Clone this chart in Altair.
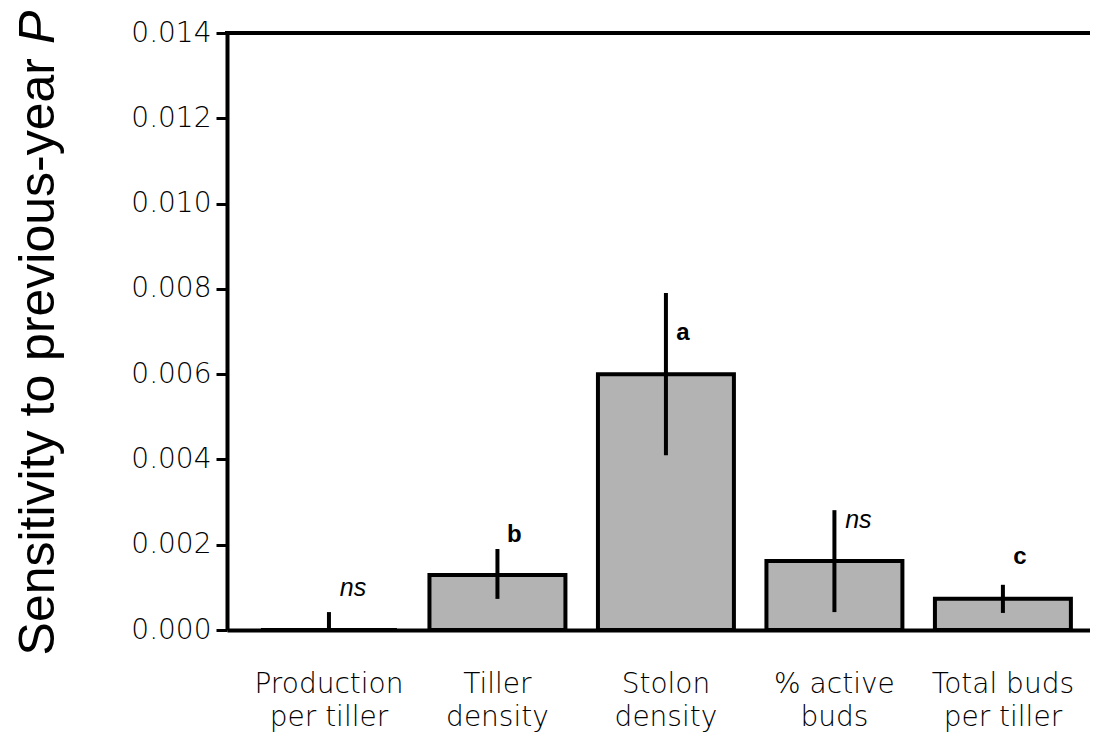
import altair as alt
import pandas as pd

categories = ["Production\nper tiller", "Tiller\ndensity", "Stolon\ndensity", "% active\nbuds", "Total buds\nper tiller"]
means = [0.0, 0.00129, 0.0060, 0.00162, 0.00073]
err_low = [0.0, 0.00073, 0.0041, 0.00042, 0.0004]
err_high = [0.00042, 0.0019, 0.0079, 0.00281, 0.00106]
letters = ["ns", "b", "a", "ns", "c"]
letter_y = [0.00098, 0.00223, 0.00697, 0.00258, 0.00171]
y_ticks = [0.0, 0.002, 0.004, 0.006, 0.008, 0.010, 0.012, 0.014]

df = pd.DataFrame({
    "cat": categories,
    "mean": means,
    "lo": err_low,
    "hi": err_high,
    "letter": letters,
    "ly": letter_y,
})

W, H = 863, 597

x_enc = alt.X(
    "cat:N",
    sort=categories,
    scale=alt.Scale(paddingInner=0.193, paddingOuter=0.1575, align=0.64),
    axis=alt.Axis(
        title=None, labelAngle=0, ticks=False, labelOverlap=False,
        labelExpr="split(datum.value, '\\n')",
        labelFont="DejaVu Sans", labelFontSize=28, labelFontWeight=300,
        labelLineHeight=33,
        labelPadding=40, labelColor="black",
        domainColor="black", domainWidth=4,
    ),
)

y_scale = alt.Scale(domain=[0, 0.014], nice=False, zero=True)
y_axis = alt.Axis(
    title=None, values=y_ticks, format=".3f", grid=False,
    tickSize=11, tickWidth=3, tickColor="black",
    domainColor="black", domainWidth=4,
    labelFont="DejaVu Sans", labelFontSize=28, labelFontWeight=200,
    labelPadding=5, labelColor="black",
)

base = alt.Chart(df)

bars = base.mark_bar(fill="#b3b3b3", stroke="black", strokeWidth=4).encode(
    x=x_enc,
    y=alt.Y("mean:Q", scale=y_scale, axis=y_axis),
)

errs = base.mark_rule(color="black", strokeWidth=4).encode(
    x=alt.X("cat:N", sort=categories),
    y=alt.Y("lo:Q"),
    y2=alt.Y2("hi:Q"),
)

sig = base.transform_filter("datum.letter != 'ns'").mark_text(
    font="Liberation Sans", fontWeight="bold", fontSize=24, dx=17,
    baseline="middle", align="center", color="black",
).encode(
    x=alt.X("cat:N", sort=categories),
    y=alt.Y("ly:Q"),
    text="letter:N",
)

ns = base.transform_filter("datum.letter == 'ns'").mark_text(
    font="Liberation Sans", fontStyle="italic", fontSize=25, dx=24,
    baseline="middle", align="center", color="black",
).encode(
    x=alt.X("cat:N", sort=categories),
    y=alt.Y("ly:Q"),
    text="letter:N",
)

top_line = alt.Chart(pd.DataFrame({"v": [0.014]})).mark_rule(
    color="black", strokeWidth=4, strokeCap="square"
).encode(
    y=alt.Y("v:Q"),
    x=alt.value(0),
    x2=alt.value(W),
)

title_df = pd.DataFrame({"t": ["Sensitivity to previous-year"]})
title_main = alt.Chart(title_df).mark_text(
    font="Liberation Sans", fontSize=50, angle=270, align="right",
    baseline="alphabetic", color="black",
).encode(
    text="t:N", x=alt.value(-173), y=alt.value(25),
)

p_df = pd.DataFrame({"t": ["P"]})
title_p = alt.Chart(p_df).mark_text(
    font="Liberation Sans", fontSize=50, angle=270, align="left",
    baseline="alphabetic", fontStyle="italic", color="black",
).encode(
    text="t:N", x=alt.value(-173), y=alt.value(11),
)

chart = alt.layer(bars, errs, sig, ns, top_line, title_main, title_p).properties(
    width=W, height=H,
    padding={"left": 219, "top": 25, "right": 0, "bottom": 105},
    autosize=alt.AutoSizeParams(type="none"),
).configure_view(stroke=None)

chart.save("out.html", embed_options={"renderer": "svg", "actions": False})
